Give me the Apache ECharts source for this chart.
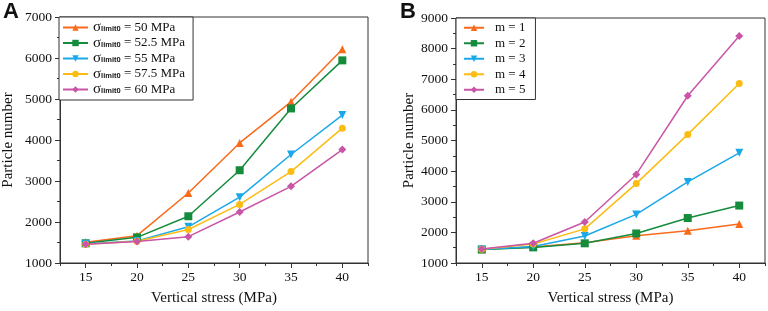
<!DOCTYPE html>
<html>
<head>
<meta charset="utf-8">
<script src="https://cdn.jsdelivr.net/npm/echarts@6/dist/echarts.min.js"></script>
<style>
html,body{margin:0;padding:0;background:#fff;}
#main{width:768px;height:311px;}
</style>
</head>
<body>
<div id="main"></div>
<script>
var stress = [15, 20, 25, 30, 35, 40];
var xTicks = [15, 20, 25, 30, 35, 40];

// panel A: limit stress
var namesA = ['50', '52.5', '55', '57.5', '60'];
var a50 = [1505, 1666, 2708, 3928, 4931, 6214];
var a525 = [1480, 1626, 2140, 3262, 4770, 5942];
var a55 = [1470, 1539, 1883, 2605, 3647, 4609];
var a575 = [1460, 1530, 1818, 2429, 3230, 4289];
var a60 = [1457, 1522, 1642, 2244, 2869, 3767];

// panel B: m
var namesB = ['m = 1', 'm = 2', 'm = 3', 'm = 4', 'm = 5'];
var m1 = [1450, 1520, 1660, 1890, 2050, 2275];
var m2 = [1440, 1510, 1643, 1964, 2468, 2876];
var m3 = [1440, 1536, 1880, 2587, 3647, 4599];
var m4 = [1450, 1620, 2115, 3593, 5199, 6860];
var m5 = [1460, 1643, 2340, 3892, 6462, 8413];

var colors = ['#f96a1b', '#148c3c', '#1aa8ea', '#fbbc14', '#c955a6'];
var symbols = ['triangle', 'rect', 'path://M0,0 L10,0 L5,9 Z', 'circle', 'diamond'];
var font = 'Liberation Serif';

var chart = echarts.init(document.getElementById('main'));

function pairs(vals) {
    return stress.map(function (x, i) { return [x, vals[i]]; });
}

function makeSeries(list, names, idx) {
    return list.map(function (vals, i) {
        return {
            name: names[i],
            type: 'line',
            xAxisIndex: idx * 2,
            yAxisIndex: idx,
            data: pairs(vals),
            symbol: symbols[i],
            symbolSize: i == 3 ? 7 : 8,
            color: colors[i],
            lineStyle: {width: 1.5},
            animation: false
        };
    });
}

function xAxes(grid) {
    return [{
        type: 'value', gridIndex: grid, position: 'bottom',
        min: 12.5, max: 42.5,
        name: 'Vertical stress (MPa)', nameLocation: 'middle', nameGap: 28,
        nameTextStyle: {fontFamily: font, fontSize: 15, color: '#111'},
        axisLine: {lineStyle: {color: '#333', width: 1}},
        axisTick: {customValues: xTicks, length: 5, lineStyle: {color: '#333'}},
        axisLabel: {customValues: xTicks, fontFamily: font, fontSize: 13.5, color: '#111', margin: 7},
        splitLine: {show: false}
    }, {
        type: 'value', gridIndex: grid, position: 'bottom',
        min: 12.5, max: 42.5, interval: 2.5,
        axisLine: {show: false},
        axisTick: {length: 3, lineStyle: {color: '#333'}},
        axisLabel: {show: false},
        splitLine: {show: false}
    }];
}

function yAxis(grid, max, gap) {
    return {
        type: 'value', gridIndex: grid, min: 1000, max: max, interval: 1000,
        name: 'Particle number', nameLocation: 'middle', nameGap: gap,
        nameTextStyle: {fontFamily: font, fontSize: 15, color: '#111'},
        axisLine: {show: true, lineStyle: {color: '#333', width: 1}},
        axisTick: {show: true, length: 5, lineStyle: {color: '#333'}},
        minorTick: {show: true, splitNumber: 2, length: 3, lineStyle: {color: '#333'}},
        axisLabel: {fontFamily: font, fontSize: 13.5, color: '#111', margin: 8,
            formatter: function (v) { return String(v); }},
        splitLine: {show: false}
    };
}

var option = {
    backgroundColor: '#fff',
    animation: false,
    grid: [
        {left: 59, right: 400, top: 17, bottom: 44, show: true, borderColor: '#333', borderWidth: 1},
        {left: 456, right: 3, top: 18, bottom: 44, show: true, borderColor: '#333', borderWidth: 1}
    ],
    xAxis: xAxes(0).concat(xAxes(1)),
    yAxis: [yAxis(0, 7000, 44), yAxis(1, 9000, 39)],
    legend: [{
        data: namesA, orient: 'vertical', left: 59, top: 17,
        itemWidth: 25, itemHeight: 8, itemGap: 0.5,
        padding: [3, 8, 3, 3],
        borderColor: '#333', borderWidth: 1, backgroundColor: '#fff',
        formatter: function (n) { return '{s|σ}{sub|limit0}{t| = ' + n + ' MPa}'; },
        textStyle: {
            fontFamily: font, color: '#111',
            rich: {
                s: {fontFamily: font, fontSize: 15, color: '#111', lineHeight: 13},
                sub: {fontFamily: 'Liberation Sans', fontSize: 7.5, fontWeight: 'bold', color: '#111', lineHeight: 9, padding: [3, 0, 0, 0]},
                t: {fontFamily: font, fontSize: 13, color: '#111', lineHeight: 13}
            }
        }
    }, {
        data: namesB, orient: 'vertical', left: 456, top: 18,
        itemWidth: 20, itemHeight: 8, itemGap: 2,
        padding: [3, 10, 3, 7],
        borderColor: '#333', borderWidth: 1, backgroundColor: '#fff',
        textStyle: {fontFamily: font, fontSize: 13, color: '#111', padding: [0, 0, 0, 6], lineHeight: 13.5}
    }],
    graphic: [
        {type: 'text', left: 3, top: 1, style: {text: 'A', font: 'bold 22px "Liberation Sans"', fill: '#111'}},
        {type: 'text', left: 400, top: 1, style: {text: 'B', font: 'bold 22px "Liberation Sans"', fill: '#111'}}
    ],
    series: makeSeries([a50, a525, a55, a575, a60], namesA, 0)
        .concat(makeSeries([m1, m2, m3, m4, m5], namesB, 1))
};
chart.setOption(option);
</script>
</body>
</html>
